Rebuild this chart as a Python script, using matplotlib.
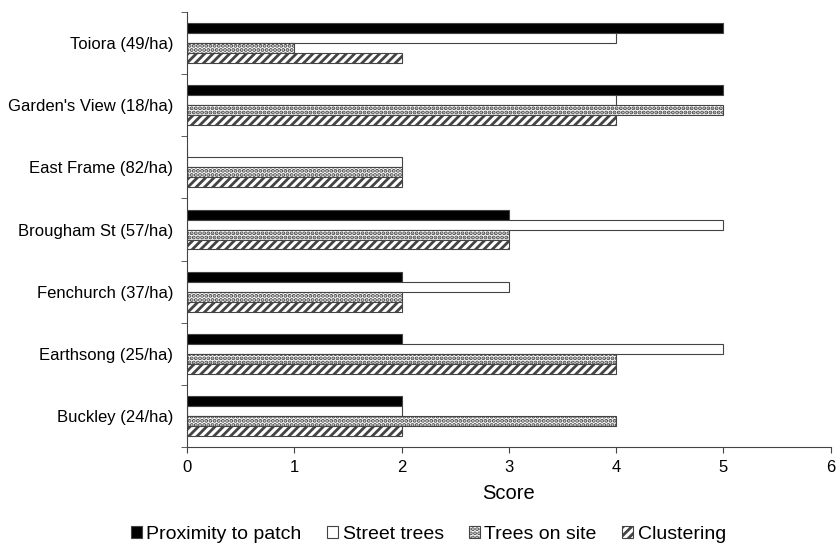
import numpy as np
import matplotlib
matplotlib.use("Agg")
import matplotlib.pyplot as plt
from matplotlib.patches import Patch

plt.rcParams['font.family'] = ['Liberation Sans', 'DejaVu Sans']
plt.rcParams['hatch.linewidth'] = 2.0

# sites listed top to bottom
sites = ["Toiora (49/ha)", "Garden's View (18/ha)", "East Frame (82/ha)",
         "Brougham St (57/ha)", "Fenchurch (37/ha)", "Earthsong (25/ha)",
         "Buckley (24/ha)"]
proximity = [5, 5, 0, 3, 2, 2, 2]
street_trees = [4, 4, 2, 5, 3, 5, 2]
trees_on_site = [1, 5, 2, 3, 2, 4, 4]
clustering = [2, 4, 2, 3, 2, 4, 2]

series = [
    ("Proximity to patch", proximity, dict(facecolor="black", hatch=None)),
    ("Street trees", street_trees, dict(facecolor="white", hatch=None)),
    ("Trees on site", trees_on_site, dict(facecolor="white", hatch="....")),
    ("Clustering", clustering, dict(facecolor="white", hatch="////")),
]

fig = plt.figure(figsize=(8.4, 5.44), dpi=100)
ax = fig.add_axes([0.2226, 0.178, 0.7664, 0.80])

n = len(sites)
pos = np.arange(n)[::-1]  # top category first
h = 0.16
for i, (name, vals, style) in enumerate(series):
    y = pos + (1.5 - i) * h
    ax.barh(y, vals, height=h, edgecolor="#444444", linewidth=0.8,
            label=name, **style)

ax.set_xlim(0, 6)
ax.set_ylim(-0.5, n - 0.5)
ax.set_yticks(pos)
ax.set_yticklabels(sites, fontsize=12)
ax.set_yticks(np.arange(n + 1) - 0.5, minor=True)
ax.tick_params(axis="y", which="major", length=0, pad=10)
ax.tick_params(axis="y", which="minor", length=4, direction="out", color="#444444")
ax.set_xticks(range(7))
ax.tick_params(axis="x", labelsize=12, length=4, pad=5, color="#444444")
ax.set_xlabel("Score", fontsize=14.5, labelpad=7)

for s in ["top", "right"]:
    ax.spines[s].set_visible(False)
for s in ["left", "bottom"]:
    ax.spines[s].set_color("#444444")

handles = [Patch(edgecolor="#444444", linewidth=0.8, label=name, **style)
           for name, vals, style in series]
fig.legend(handles=handles, loc="lower center", bbox_to_anchor=(0.51, -0.03),
           ncol=4, frameon=False, fontsize=14, handlelength=0.55,
           handleheight=0.55, handletextpad=0.25, columnspacing=1.3)

fig.savefig("out.png", dpi=100)
